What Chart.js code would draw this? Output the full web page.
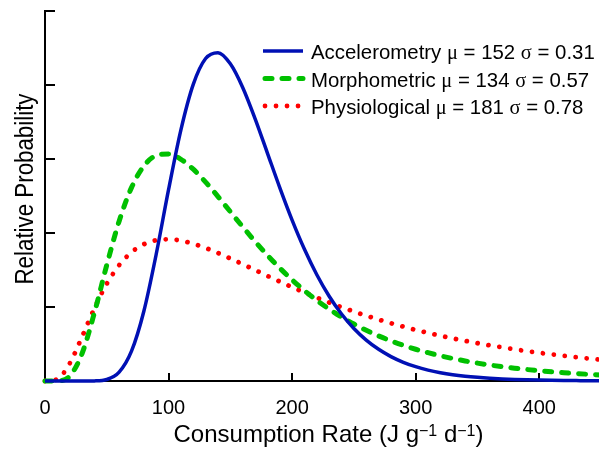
<!DOCTYPE html>
<html>
<head>
<meta charset="utf-8">
<script src="https://cdn.jsdelivr.net/npm/chart.js@4.4.1/dist/chart.umd.min.js"></script>
<style>
    body { margin: 0; background: #ffffff; overflow: hidden; }
    #wrap { width: 602px; height: 451px; position: relative; }
</style>
</head>
<body>
<div id="wrap"><canvas id="rateChart"></canvas></div>
<script>
// Consumption rate (J g-1 d-1), sampled every 10 units
const rates = [0, 10, 20, 30, 40, 50, 60, 70, 80, 90, 100, 110, 120, 130, 140, 150, 160, 170, 180, 190,
    200, 210, 220, 230, 240, 250, 260, 270, 280, 290, 300, 310, 320, 330, 340, 350, 360, 370, 380, 390,
    400, 410, 420, 430, 440, 450];

// Relative probability (axis ticks every 2 units)
const accelerometry = [0, 0, 0, 0, 0.003, 0.041, 0.239, 0.805, 1.885, 3.425, 5.170, 6.789, 8.018, 8.716, 8.874,
    8.572, 7.934, 7.092, 6.161, 5.228, 4.349, 3.559, 2.873, 2.292, 1.811, 1.419, 1.105, 0.856, 0.660, 0.506,
    0.387, 0.295, 0.225, 0.171, 0.130, 0.099, 0.075, 0.057, 0.043, 0.033, 0.025, 0.019, 0.014, 0.011, 0.008, 0.006];
const morphometric = [0, 0.002, 0.134, 0.743, 1.846, 3.137, 4.320, 5.226, 5.809, 6.095, 6.135, 5.993, 5.724, 5.376,
    4.985, 4.576, 4.168, 3.773, 3.400, 3.053, 2.734, 2.443, 2.179, 1.942, 1.729, 1.539, 1.369, 1.218, 1.084, 0.964,
    0.858, 0.765, 0.681, 0.608, 0.542, 0.484, 0.432, 0.387, 0.346, 0.310, 0.278, 0.249, 0.224, 0.201, 0.181, 0.163];
const physiological = [0, 0.052, 0.474, 1.198, 1.965, 2.625, 3.130, 3.480, 3.696, 3.805, 3.830, 3.792, 3.710, 3.596,
    3.460, 3.312, 3.157, 2.999, 2.841, 2.687, 2.536, 2.392, 2.253, 2.121, 1.996, 1.878, 1.766, 1.661, 1.562, 1.469,
    1.382, 1.301, 1.224, 1.152, 1.085, 1.022, 0.963, 0.908, 0.856, 0.808, 0.763, 0.720, 0.680, 0.643, 0.608, 0.575];

const seriesNames = ['Accelerometry', 'Morphometric', 'Physiological'];
const seriesMu = [152, 134, 181];
const seriesSigma = ['0.31', '0.57', '0.78'];

const xTicks = [0, 100, 200, 300, 400];
const yTicks = [0, 2, 4, 6, 8, 10];
const xTitle = ['Consumption Rate (J g', '\u22121', ' d', '\u22121', ')'];
const yTitle = 'Relative Probability';

const SANS = '"Liberation Sans", Arial, Helvetica, sans-serif';
const SERIF = '"Liberation Serif", "Times New Roman", serif';

const styles = [
    { color: '#0010b4', width: 3.5, dash: [] },
    { color: '#00c000', width: 5, dash: [7, 10] },
    { color: '#ff0000', width: 4.8, dash: [0.01, 11] }
];

function toPoints(values) {
    return rates.map((r, i) => ({ x: r, y: values[i] }));
}

// inward tick marks, drawn before the curves
const innerTicks = {
    id: 'innerTicks',
    beforeDatasetsDraw(chart) {
        const { ctx, chartArea, scales } = chart;
        ctx.save();
        ctx.strokeStyle = '#000';
        ctx.lineWidth = 2;
        xTicks.forEach(v => {
            if (v === 0) return;
            const px = Math.round(scales.x.getPixelForValue(v));
            ctx.beginPath();
            ctx.moveTo(px, chartArea.bottom);
            ctx.lineTo(px, chartArea.bottom - 8);
            ctx.stroke();
        });
        yTicks.forEach(v => {
            const py = Math.round(scales.y.getPixelForValue(v));
            ctx.beginPath();
            ctx.moveTo(chartArea.left, py);
            ctx.lineTo(chartArea.left + 10, py);
            ctx.stroke();
        });
        ctx.restore();
    }
};

// axis titles and the legend inside the plot
const decorations = {
    id: 'decorations',
    afterDraw(chart) {
        const { ctx } = chart;
        ctx.save();
        ctx.fillStyle = '#000';
        ctx.textBaseline = 'alphabetic';

        // x title with superscripts
        const big = '24px ' + SANS, small = '16px ' + SANS;
        const parts = xTitle.map((t, i) => ({ t, f: i % 2 === 1 ? small : big, sup: i % 2 === 1 }));
        let total = 0;
        parts.forEach(p => { ctx.font = p.f; p.w = ctx.measureText(p.t).width; total += p.w; });
        let x = 328.5 - total / 2;
        parts.forEach(p => {
            ctx.font = p.f;
            ctx.fillText(p.t, x, p.sup ? 436 : 442);
            x += p.w;
        });

        // y title (glyphs look tall and narrow in the original)
        ctx.save();
        ctx.translate(33, 189);
        ctx.rotate(-Math.PI / 2);
        ctx.font = '26px ' + SANS;
        ctx.textAlign = 'center';
        const w = ctx.measureText(yTitle).width;
        ctx.scale(191 / w, 1);
        ctx.fillText(yTitle, 0, 0);
        ctx.restore();

        // legend
        const rowBase = [59, 86.5, 114];
        seriesNames.forEach((name, i) => {
            const s = styles[i];
            const ly = rowBase[i] - 8;
            ctx.save();
            ctx.strokeStyle = s.color;
            ctx.lineWidth = s.width;
            ctx.lineCap = i === 0 ? 'butt' : 'round';
            ctx.setLineDash(s.dash);
            ctx.beginPath();
            ctx.moveTo(i === 0 ? 263 : 265, ly);
            ctx.lineTo(303, ly);
            ctx.stroke();
            ctx.restore();

            const segs = [
                [name + ' ', SANS], ['\u03bc', SERIF], [' = ' + seriesMu[i] + ' ', SANS],
                ['\u03c3', SERIF], [' = ' + seriesSigma[i], SANS]
            ];
            let tx = 311;
            segs.forEach(([t, fam]) => {
                ctx.font = '20.4px ' + fam;
                ctx.fillText(t, tx, rowBase[i]);
                tx += ctx.measureText(t).width;
            });
        });
        ctx.restore();
    }
};

const datasets = [accelerometry, morphometric, physiological].map((vals, i) => ({
    label: seriesNames[i],
    data: toPoints(vals),
    borderColor: styles[i].color,
    borderWidth: styles[i].width,
    borderDash: styles[i].dash,
    borderCapStyle: i === 0 ? 'butt' : 'round',
    pointRadius: 0,
    fill: false,
    cubicInterpolationMode: 'monotone',
    clip: false
}));

new Chart(document.getElementById('rateChart'), {
    type: 'line',
    data: { datasets },
    options: {
        responsive: true,
        maintainAspectRatio: false,
        animation: false,
        events: [],
        layout: { padding: { top: 11, right: 1, left: 0, bottom: 0 } },
        scales: {
            x: {
                type: 'linear',
                min: 0,
                max: 450,
                afterBuildTicks: s => { s.ticks = xTicks.map(v => ({ value: v })); },
                afterFit: s => { s.height = 70; },
                grid: { display: false },
                border: { display: true, color: '#000', width: 2 },
                ticks: {
                    color: '#000',
                    padding: 7,
                    maxRotation: 0,
                    font: { family: SANS, size: 20 }
                }
            },
            y: {
                min: 0,
                max: 10,
                afterBuildTicks: s => { s.ticks = yTicks.map(v => ({ value: v })); },
                afterFit: s => { s.width = 45; },
                grid: { display: false },
                border: { display: true, color: '#000', width: 2 },
                ticks: { display: false }
            }
        },
        plugins: {
            legend: { display: false },
            tooltip: { enabled: false }
        }
    },
    plugins: [innerTicks, decorations]
});
</script>
</body>
</html>
